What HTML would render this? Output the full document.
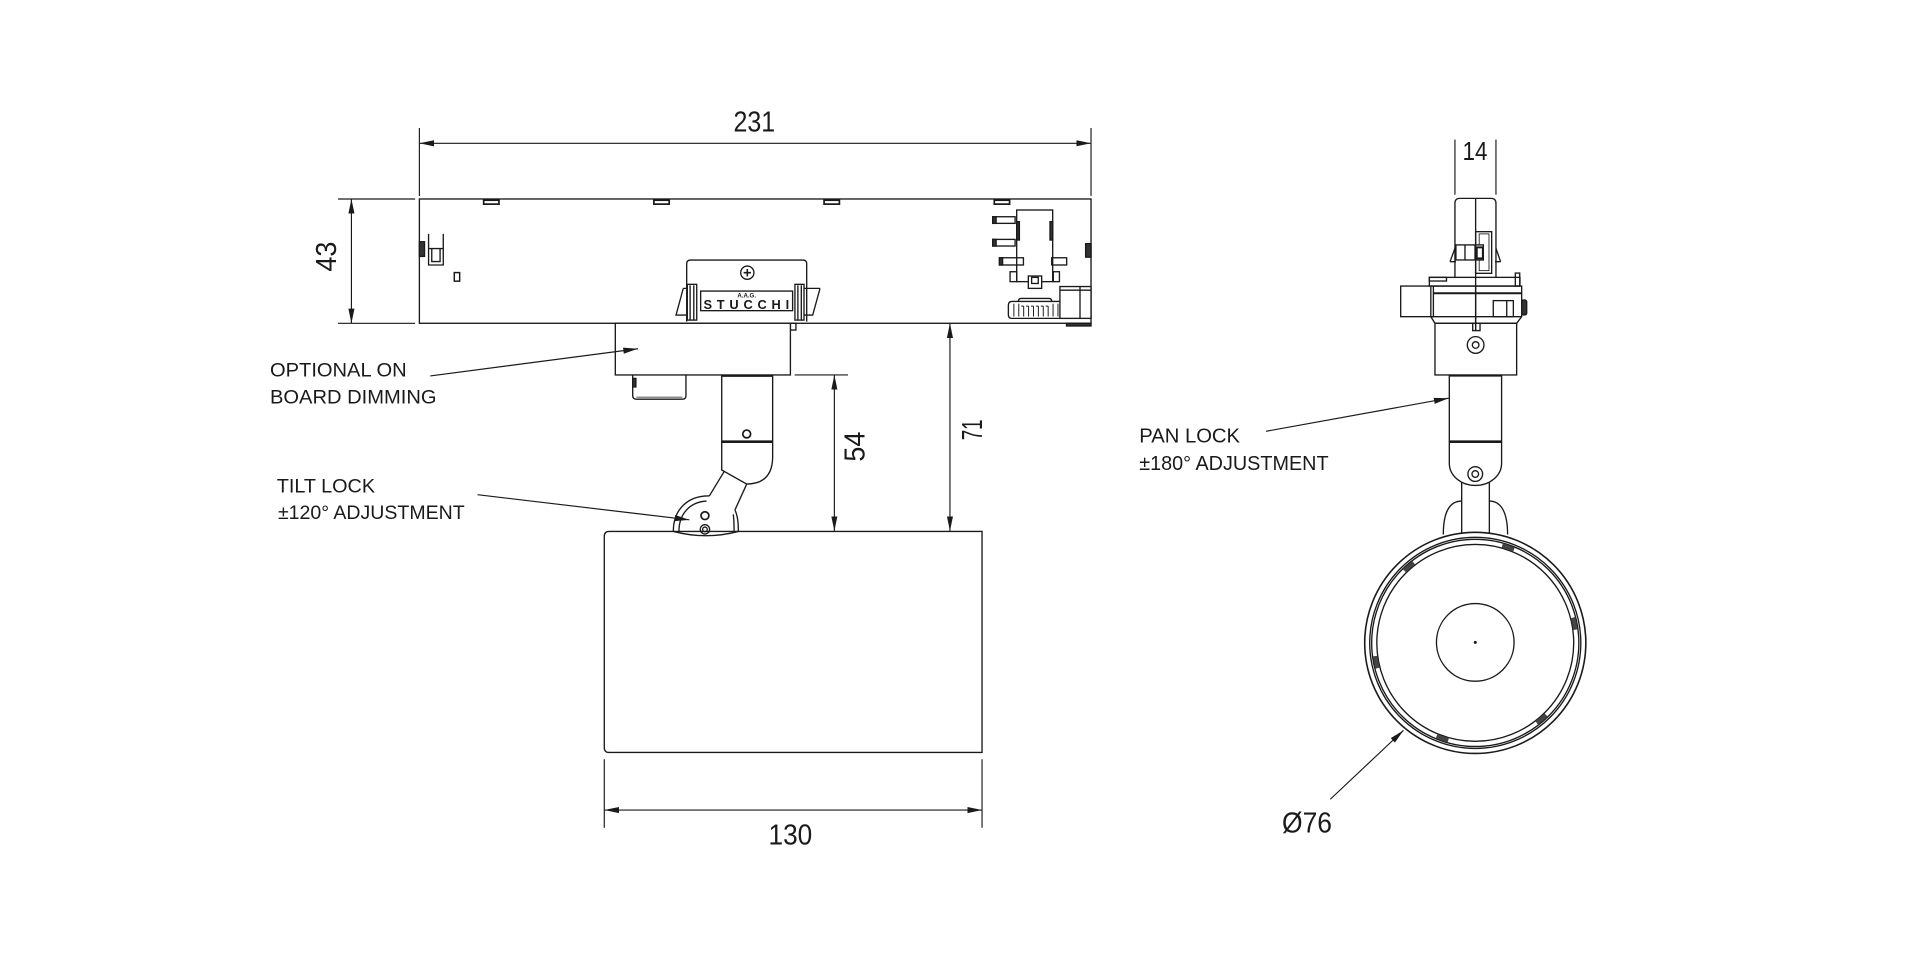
<!DOCTYPE html>
<html><head><meta charset="utf-8"><style>
html,body{margin:0;padding:0;background:#fff;}
svg{display:block;}
text{font-family:"Liberation Sans",sans-serif;fill:#1a1a1a;stroke:none;}
</style></head><body>
<svg width="1920" height="962" viewBox="0 0 1568 785.6" preserveAspectRatio="none" xmlns="http://www.w3.org/2000/svg">
<defs>
<marker id="a" markerUnits="userSpaceOnUse" markerWidth="13" markerHeight="7" refX="12" refY="3.5" orient="auto-start-reverse" viewBox="0 0 13 7">
<path d="M0,1 L12,3.5 L0,6 Z" fill="#1a1a1a" stroke="none"/>
</marker>
</defs>
<rect x="0" y="0" width="1568" height="785.6" fill="#fff"/>

<!-- ================= DIMENSIONS ================= -->
<g fill="none" stroke="#1a1a1a" stroke-width="0.95">
  <!-- 231 -->
  <line x1="342.5" y1="117" x2="891" y2="117" marker-start="url(#a)" marker-end="url(#a)"/>
  <line x1="342.5" y1="104.5" x2="342.5" y2="160"/>
  <line x1="891" y1="104.5" x2="891" y2="160"/>
  <!-- 43 -->
  <line x1="287" y1="162.5" x2="287" y2="264" marker-start="url(#a)" marker-end="url(#a)"/>
  <line x1="276" y1="162.5" x2="339" y2="162.5"/>
  <line x1="276" y1="264" x2="339" y2="264"/>
  <!-- 54 -->
  <line x1="681.4" y1="306.2" x2="681.4" y2="433.6" marker-start="url(#a)" marker-end="url(#a)"/>
  <line x1="649" y1="306.2" x2="692.5" y2="306.2"/>
  <!-- 71 -->
  <line x1="775.8" y1="264" x2="775.8" y2="433.6" marker-start="url(#a)" marker-end="url(#a)"/>
  <!-- 130 -->
  <line x1="493.5" y1="661.5" x2="802" y2="661.5" marker-start="url(#a)" marker-end="url(#a)"/>
  <line x1="493.5" y1="620" x2="493.5" y2="676"/>
  <line x1="802" y1="620" x2="802" y2="676"/>
  <!-- 14 -->
  <line x1="1188.2" y1="114" x2="1188.2" y2="159"/>
  <line x1="1221.7" y1="114" x2="1221.7" y2="159"/>
</g>

<!-- ================= LEFT VIEW ================= -->
<g fill="none" stroke="#1a1a1a" stroke-width="1.1">
  <!-- adapter box -->
  <rect x="342.5" y="162.5" width="548.5" height="101.5"/>
  <!-- top tabs -->
  <g stroke-width="1.4">
    <rect x="395" y="163.5" width="12.5" height="3.2"/>
    <rect x="534" y="163.5" width="12.5" height="3.2"/>
    <rect x="673" y="163.5" width="12.5" height="3.2"/>
    <rect x="812" y="163.5" width="12.5" height="3.2"/>
  </g>
  <!-- left side details -->
  <rect x="342.5" y="197.4" width="4.2" height="12" fill="#333"/>
  <path d="M350,191 V216.4 H362 V191 M352.6,203 V213.6 H359.4 V203 M350,203 H362"/>
  <rect x="371" y="222.6" width="4.4" height="7" stroke-width="1.2"/>
  <!-- right side tab -->
  <rect x="886.6" y="199" width="4.4" height="11" fill="#333"/>

  <!-- connector -->
  <rect x="830.3" y="171.5" width="29.4" height="58.5" fill="#fff"/>
  <rect x="830.3" y="181" width="2.2" height="15" fill="#333"/>
  <rect x="857.5" y="181" width="2.2" height="15" fill="#333"/>
  <rect x="810.7" y="177" width="18.3" height="5.4"/>
  <rect x="810.7" y="177" width="2.8" height="5.4" fill="#333"/>
  <rect x="810.7" y="195.5" width="18.3" height="5.4"/>
  <rect x="810.7" y="195.5" width="2.8" height="5.4" fill="#333"/>
  <rect x="816.2" y="210.5" width="19.6" height="5.9"/>
  <rect x="816.2" y="210.5" width="2.6" height="5.9" fill="#333"/>
  <rect x="858.9" y="210.5" width="12.2" height="5.9"/>
  <rect x="824.9" y="221.9" width="5.4" height="8.1"/>
  <rect x="860.2" y="221.9" width="5" height="8.1"/>
  <rect x="839.8" y="225.4" width="10.9" height="10.1" fill="#fff"/>
  <rect x="842.5" y="226.5" width="5.4" height="5"/>
  <!-- gear -->
  <path d="M831.7,246.2 Q831.7,243.7 834,243.7 H856.6 Q858.9,243.7 858.9,246.2"/>
  <path d="M826.5,246.2 H866.2 V260 H826.5 Q823.5,260 823.5,257 V249.2 Q823.5,246.2 826.5,246.2 Z"/>
  <g stroke-width="0.8">
    <line x1="828" y1="248" x2="828" y2="258.5"/><line x1="832" y1="248" x2="832" y2="258.5"/>
    <line x1="836" y1="250" x2="836" y2="258.5"/><line x1="840" y1="250" x2="840" y2="258.5"/>
    <line x1="844" y1="250" x2="844" y2="258.5"/><line x1="848" y1="250" x2="848" y2="258.5"/>
    <line x1="852" y1="250" x2="852" y2="258.5"/><line x1="856" y1="250" x2="856" y2="258.5"/>
    <line x1="860" y1="248" x2="860" y2="258.5"/><line x1="864" y1="248" x2="864" y2="258.5"/>
    <line x1="834" y1="250" x2="858" y2="250" stroke-dasharray="2 2"/>
  </g>
  <!-- right block -->
  <rect x="865.6" y="234" width="25.4" height="26" fill="#fff"/>
  <line x1="882" y1="234" x2="882" y2="260"/>
  <line x1="865.6" y1="237" x2="891" y2="237"/>
  <rect x="871" y="264" width="20" height="2.2" fill="#333"/>

  <!-- STUCCHI clip -->
  <path d="M560.8,262.7 V215.4 Q560.8,212.4 563.8,212.4 H655.8 Q658.8,212.4 658.8,215.4 V262.7" fill="#fff"/>
  <circle cx="610.3" cy="222.7" r="5.4"/>
  <path d="M610.3,219.7 V225.7 M607.3,222.7 H613.3" stroke-width="1.3"/>
  <rect x="572.2" y="237.7" width="75.1" height="16" fill="#fff"/>
  <rect x="561.3" y="232.2" width="7.7" height="29.2" fill="#fff"/>
  <line x1="563.6" y1="233" x2="563.6" y2="261"/><line x1="566.6" y1="233" x2="566.6" y2="261"/>
  <rect x="649.2" y="232.2" width="7.4" height="29.2" fill="#fff"/>
  <line x1="651.6" y1="233" x2="651.6" y2="261"/><line x1="654.4" y1="233" x2="654.4" y2="261"/>
  <path d="M558,235.5 L552.1,257.3 H561.3 M558,235.5 H561.3"/>
  <path d="M669.7,235.5 L663.7,257.3 H656.6 M669.7,235.5 H656.6"/>
  <rect x="645.5" y="264" width="4.5" height="5.5"/>

  <!-- dimming box -->
  <rect x="502.5" y="264" width="143" height="42.2" fill="#fff"/>
  <path d="M516.7,306.2 V323 Q516.7,326 519.7,326 H557.2 Q560.2,326 560.2,323 V306.2"/>
  <line x1="519.7" y1="324.3" x2="557.2" y2="324.3" stroke-width="0.7"/>
  <rect x="516.7" y="309" width="2.6" height="7" fill="#333"/>

  <!-- stem -->
  <path d="M589.4,306.2 V383.8 L609.8,395.3 Q631,395 631,373 V306.2" fill="#fff"/>
  <line x1="589.4" y1="306.8" x2="631" y2="306.8" stroke-width="2"/>
  <line x1="589.4" y1="360.7" x2="631" y2="360.7" stroke-width="2.2"/>
  <circle cx="609.8" cy="354.4" r="3.2" stroke-width="1.4"/>
  <!-- arm -->
  <line x1="591.3" y1="385.2" x2="579.3" y2="405"/>
  <line x1="609.8" y1="395.3" x2="600.2" y2="416.5"/>
  <!-- hub -->
  <path d="M549.9,433.6 C549.9,416 562,404.5 579.3,405"/>
  <path d="M600.2,416.5 C602.5,421 603,427 603,433.6"/>
  <path d="M554.5,433.6 C554.5,420 563,410 577,409.2"/>
  <path d="M598.8,420 C599.5,424 599.5,429 599.5,433.6"/>
  <circle cx="575.7" cy="421.1" r="3.2" stroke-width="1.4"/>
  <circle cx="575.7" cy="432.3" r="3.8"/>
  <circle cx="575.7" cy="432.3" r="1.9"/>
  <!-- lamp body -->
  <path d="M497.5,434 H802 V614.5 H497.5 Q493.5,614.5 493.5,610.5 V438 Q493.5,434 497.5,434 Z"/>
  <path d="M549.9,434 Q576.5,441 603,434"/>
</g>

<!-- ================= RIGHT VIEW ================= -->
<g fill="none" stroke="#1a1a1a" stroke-width="1.1">
  <!-- top connector -->
  <path d="M1188.2,228.7 V166 Q1188.2,162 1192.2,162 H1217.7 Q1221.7,162 1221.7,166 V228.7" fill="#fff"/>
  <rect x="1205.1" y="189.2" width="13.1" height="34"/>
  <rect x="1208" y="191" width="8" height="30" stroke-width="0.7"/>
  <rect x="1189" y="200" width="22.4" height="12.3" fill="#fff"/>
  <line x1="1196.4" y1="200" x2="1196.4" y2="212.3"/>
  <line x1="1204.6" y1="200" x2="1204.6" y2="212.3"/>
  <rect x="1206" y="202" width="5" height="9" stroke-width="1.6"/>
  <path d="M1184.2,213.7 L1188.2,202.8 M1184.2,213.7 H1189"/>
  <path d="M1225.5,213.7 L1221.7,202.8 M1225.5,213.7 H1220.9"/>
  <line x1="1205.1" y1="162" x2="1205.1" y2="270"/>
  <!-- strip -->
  <rect x="1167.3" y="226.5" width="74" height="7.1" fill="#fff"/>
  <rect x="1167.3" y="226.5" width="14" height="3" />
  <rect x="1237.5" y="223" width="3.6" height="10.6"/>
  <line x1="1205.1" y1="226.5" x2="1205.1" y2="270"/>
  <!-- left block -->
  <rect x="1143.9" y="233.6" width="26.7" height="25"/>
  <!-- main -->
  <path d="M1170.6,233.6 H1242.7 V258.6 L1238.6,264 H1171.9 L1168.5,258.6 V233.6"/>
  <line x1="1170.6" y1="239.5" x2="1242.7" y2="239.5" stroke-width="1.6"/>
  <line x1="1168.5" y1="258.6" x2="1242.7" y2="258.6"/>
  <rect x="1219.5" y="245.5" width="16.4" height="13.1"/>
  <line x1="1230.5" y1="245.5" x2="1230.5" y2="258.6"/>
  <rect x="1242.7" y="245" width="4.1" height="12.2" rx="1.5" fill="#333"/>
  <rect x="1202.7" y="264" width="6" height="6"/>
  <!-- lower housing -->
  <rect x="1171.9" y="264" width="66.7" height="42.2"/>
  <circle cx="1205.1" cy="281.7" r="6.8"/>
  <circle cx="1205.1" cy="281.7" r="2.7"/>
  <!-- stem -->
  <path d="M1183.6,306.2 V378.4 A21.35,18 0 0 0 1226.3,378.4 V306.2"/>
  <line x1="1183.6" y1="306.8" x2="1226.3" y2="306.8" stroke-width="1.6"/>
  <line x1="1183.6" y1="360.7" x2="1226.3" y2="360.7" stroke-width="2.2"/>
  <circle cx="1204.8" cy="387.1" r="6"/>
  <circle cx="1204.8" cy="387.1" r="2.7"/>
  <!-- neck & shoulders -->
  <line x1="1193.7" y1="393.8" x2="1193.7" y2="437"/>
  <line x1="1216.3" y1="393.8" x2="1216.3" y2="437"/>
  <path d="M1178.7,436.5 C1178.7,418 1184,409.2 1193.7,409.2"/>
  <path d="M1231.2,436.5 C1231.2,418 1225.7,409.2 1216.3,409.2"/>
  <!-- lens circles -->
  <circle cx="1204.8" cy="525" r="90.3" stroke-width="1.3" fill="#fff"/>
  <circle cx="1204.8" cy="525" r="86.2"/>
  <circle cx="1204.8" cy="525" r="84.6"/>
  <circle cx="1204.8" cy="525" r="80.4"/>
  <g stroke="#444" stroke-width="3.6">
    <path d="M1226.85,445.5 A82.5,82.5 0 0 1 1236.37,448.78"/>
    <path d="M1146.97,466.15 A82.5,82.5 0 0 1 1154.57,459.54"/>
    <path d="M1284.67,504.34 A82.5,82.5 0 0 1 1286.59,514.23"/>
    <path d="M1124.93,545.66 A82.5,82.5 0 0 1 1123.01,535.77"/>
    <path d="M1262.63,583.85 A82.5,82.5 0 0 1 1255.03,590.46"/>
    <path d="M1182.76,604.5 A82.5,82.5 0 0 1 1173.23,601.22"/>
  </g>
  <circle cx="1204.8" cy="524.6" r="31.7"/>
  <circle cx="1204.8" cy="524.6" r="0.7" fill="#1a1a1a"/>
</g>

<!-- ================= LEADERS (on top) ================= -->
<g fill="none" stroke="#1a1a1a" stroke-width="0.95">
  <line x1="351.4" y1="307" x2="521" y2="284.8" marker-end="url(#a)"/>
  <line x1="390" y1="404" x2="563" y2="424.5" marker-end="url(#a)"/>
  <line x1="1033.9" y1="352.2" x2="1183" y2="325.2" marker-end="url(#a)"/>
  <line x1="1086.4" y1="652.7" x2="1146.2" y2="596.4" marker-end="url(#a)"/>
</g>

<!-- ================= TEXT ================= -->
<text x="616" y="107.5" font-size="23.5" text-anchor="middle" textLength="34" lengthAdjust="spacingAndGlyphs">231</text>
<text transform="translate(266,209.6) rotate(-90)" x="0" y="8.5" font-size="23.5" text-anchor="middle" textLength="24.5" lengthAdjust="spacingAndGlyphs">43</text>
<text transform="translate(697.5,364.7) rotate(-90)" x="0" y="8.5" font-size="23.5" text-anchor="middle" textLength="24.5" lengthAdjust="spacingAndGlyphs">54</text>
<text transform="translate(793.5,351) rotate(-90)" x="0" y="8.5" font-size="23.5" text-anchor="middle" textLength="17" lengthAdjust="spacingAndGlyphs">71</text>
<text x="645.5" y="689.8" font-size="23.5" text-anchor="middle" textLength="35.7" lengthAdjust="spacingAndGlyphs">130</text>
<text x="1204.6" y="130.7" font-size="21.5" text-anchor="middle" textLength="20.4" lengthAdjust="spacingAndGlyphs">14</text>
<text x="1067.4" y="679.7" font-size="23.5" text-anchor="middle" textLength="40.8" lengthAdjust="spacingAndGlyphs">Ø76</text>

<text x="220.5" y="307.6" font-size="16" textLength="111.6" lengthAdjust="spacingAndGlyphs">OPTIONAL ON</text>
<text x="220.5" y="329.4" font-size="16" textLength="136" lengthAdjust="spacingAndGlyphs">BOARD DIMMING</text>
<text x="226" y="402.3" font-size="16" textLength="80.3" lengthAdjust="spacingAndGlyphs">TILT LOCK</text>
<text x="227" y="424" font-size="16" textLength="152.5" lengthAdjust="spacingAndGlyphs">±120° ADJUSTMENT</text>
<text x="930.4" y="361.5" font-size="16.5" textLength="82.3" lengthAdjust="spacingAndGlyphs">PAN LOCK</text>
<text x="930.4" y="384" font-size="16.5" textLength="154.6" lengthAdjust="spacingAndGlyphs">±180° ADJUSTMENT</text>

<text x="609.8" y="243" font-size="5" font-weight="bold" text-anchor="middle">A.A.G.</text>
<text x="574.5" y="252.5" font-size="10.5" font-weight="bold" textLength="70" lengthAdjust="spacing">STUCCHI</text>
</svg>
</body></html>
